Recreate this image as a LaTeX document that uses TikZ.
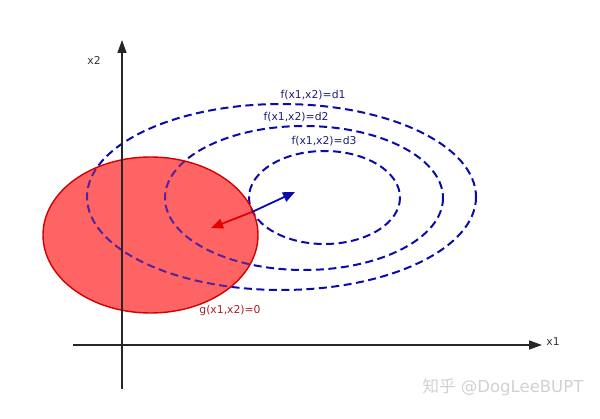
\documentclass[tikz,border=0pt]{standalone}
\usepackage{fontspec}
\setmainfont{DejaVu Sans}
\newfontfamily\cjk{Noto Sans CJK SC}
\usetikzlibrary{arrows.meta}
\definecolor{dblue}{RGB}{10,10,175}
\definecolor{lblue}{RGB}{30,30,120}
\definecolor{rfill}{RGB}{255,100,100}
\definecolor{rline}{RGB}{210,0,0}
\definecolor{glab}{RGB}{170,30,40}
\begin{document}
\begin{tikzpicture}[x=1pt,y=-1pt,
  axis/.style={line width=1.5pt,black!85,-{Triangle[length=13pt,width=9pt]}},
  level/.style={dblue,line width=2pt,dash pattern=on 8pt off 4.5pt},
  lab/.style={font=\fontsize{10.8}{12}\selectfont,inner sep=0pt},
  grad/.style={line width=1.8pt,-{Triangle[length=12pt,width=10pt]}}]
\useasboundingbox (0,0) rectangle (600,419);
% constraint region
\fill[rfill] (150.5,235) ellipse [x radius=107.5, y radius=78];
% level sets
\draw[level] (281.5,197) ellipse [x radius=194.5, y radius=93];
\draw[level] (304,198) ellipse [x radius=139, y radius=72];
\draw[level] (324.5,197.5) ellipse [x radius=75.5, y radius=46.5];
\fill[rfill,opacity=0.3] (150.5,235) ellipse [x radius=107.5, y radius=78];
\draw[rline,line width=1.4pt] (150.5,235) ellipse [x radius=107.5, y radius=78];
% axes
\coordinate (xs) at (73,345);
\coordinate (xe) at (542,345);
\coordinate (ys) at (122,389);
\coordinate (ye) at (122,40);
\draw[axis] (xs) -- (xe);
\draw[axis] (ys) -- (ye);
\node[lab,black!80] (x1) at (553,342) {x1};
\node[lab,black!80] (x2) at (94,60) {x2};
% labels
\node[lab,lblue] (d1) at (313,95) {f(x1,x2)=d1};
\node[lab,lblue] (d2) at (296,117) {f(x1,x2)=d2};
\node[lab,lblue] (d3) at (324,141) {f(x1,x2)=d3};
\node[lab,glab] (g) at (230,311) {g(x1,x2)=0};
% gradients
\coordinate (p) at (252,212);
\coordinate (bf) at (295,192);
\coordinate (rg) at (211,228);
\draw[grad,dblue] (p) -- (bf);
\draw[grad,red!90!black] (p) -- (rg);
% watermark
\node[inner sep=0pt,text=black!18,font=\fontsize{16.5}{18}\selectfont] (wm) at (503,387) {{\cjk 知乎} @DogLeeBUPT};
\end{tikzpicture}
\end{document}
